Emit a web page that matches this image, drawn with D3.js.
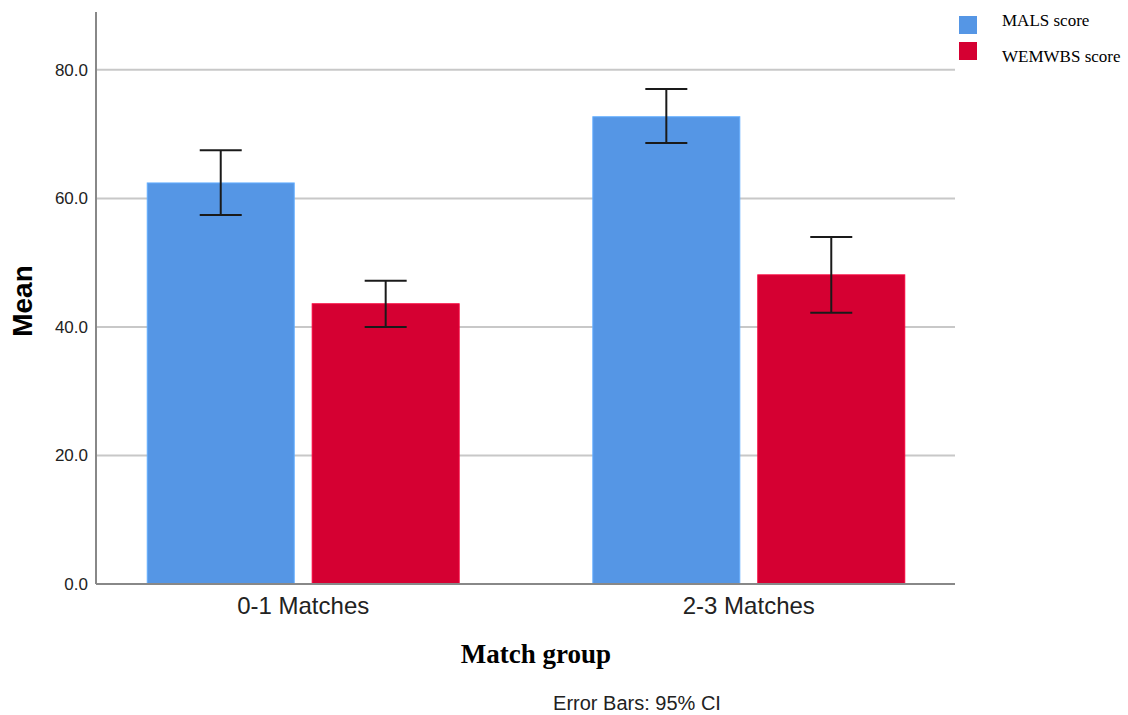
<!DOCTYPE html>
<html>
<head>
<meta charset="utf-8">
<script src="https://cdn.jsdelivr.net/npm/d3@7"></script>
<style>
  body { margin: 0; background: #fff; }
</style>
</head>
<body>
<div id="chart"></div>
<script>
const groups = ['0-1 Matches', '2-3 Matches'];
const series = ['MALS score', 'WEMWBS score'];
const colors = ['#5596e5', '#d50032'];
const means = [[62.4, 43.6], [72.7, 48.1]];
const lower = [[57.4, 40.0], [68.6, 42.2]];
const upper = [[67.5, 47.2], [77.0, 54.0]];
const yTicks = [0, 20, 40, 60, 80];

const chart = () => {
  const width = 1128;
  const height = 715;
  const left = 96, right = 956, top = 12, bottom = 584;
  const sans = 'Liberation Sans, Arial, sans-serif';
  const serif = 'Liberation Serif, Times New Roman, serif';
  const svg = d3.select('#chart')
    .append('svg')
    .attr('width', width)
    .attr('height', height);

  const y = d3.scaleLinear().domain([0, 89]).range([bottom, top]);
  const x0 = d3.scaleBand().domain(groups).range([left, right]).paddingInner(0.3).paddingOuter(0.115);
  const x1 = d3.scaleBand().domain(series).range([0, x0.bandwidth()]).paddingInner(0.109);

  // gridlines
  svg.append('g')
    .selectAll('line')
    .data(yTicks.filter(d => d > 0))
    .join('line')
    .attr('x1', left).attr('x2', right - 1)
    .attr('y1', d => y(d)).attr('y2', d => y(d))
    .attr('stroke', '#c8c8c8')
    .attr('stroke-width', 2);

  // bars
  const rows = [];
  groups.forEach((g, i) => series.forEach((s, j) => rows.push({
    g, s, j, m: means[i][j], lo: lower[i][j], hi: upper[i][j]
  })));

  svg.append('g')
    .selectAll('rect')
    .data(rows)
    .join('rect')
    .attr('x', d => x0(d.g) + x1(d.s))
    .attr('y', d => y(d.m))
    .attr('width', x1.bandwidth())
    .attr('height', d => y(0) - y(d.m))
    .attr('fill', d => colors[d.j])
    .attr('stroke', d => d3.color(colors[d.j]).brighter(0.4))
    .attr('stroke-width', 1);

  // error bars
  const eb = svg.append('g')
    .attr('stroke', '#1a1a1a')
    .attr('stroke-width', 2)
    .selectAll('g')
    .data(rows)
    .join('g')
    .attr('transform', d => `translate(${x0(d.g) + x1(d.s) + x1.bandwidth() / 2},0)`);
  eb.append('line').attr('y1', d => y(d.lo)).attr('y2', d => y(d.hi));
  eb.append('line').attr('x1', -21).attr('x2', 21).attr('y1', d => y(d.lo)).attr('y2', d => y(d.lo));
  eb.append('line').attr('x1', -21).attr('x2', 21).attr('y1', d => y(d.hi)).attr('y2', d => y(d.hi));

  // axes
  const yAxis = svg.append('g')
    .attr('transform', `translate(${left},0)`)
    .call(d3.axisLeft(y).tickValues(yTicks).tickFormat(d3.format('.1f')).tickSize(0).tickPadding(8));
  yAxis.select('.domain').remove();
  yAxis.selectAll('text')
    .attr('font-family', sans)
    .attr('font-size', 17)
    .attr('fill', '#222');

  svg.append('line')
    .attr('x1', left).attr('x2', left).attr('y1', top).attr('y2', bottom)
    .attr('stroke', '#888').attr('stroke-width', 2);

  const xAxis = svg.append('g')
    .attr('transform', `translate(0,${bottom})`)
    .call(d3.axisBottom(x0).tickSize(0).tickPadding(13));
  xAxis.select('.domain').attr('stroke', '#888').attr('stroke-width', 2)
    .attr('d', `M${left},0H${right - 1}`);
  xAxis.selectAll('text')
    .attr('font-family', sans)
    .attr('font-size', 24)
    .attr('fill', '#222');

  // titles
  svg.append('text')
    .attr('transform', 'translate(32,301) rotate(-90)')
    .attr('text-anchor', 'middle')
    .attr('font-family', sans)
    .attr('font-weight', 'bold')
    .attr('font-size', 28)
    .text('Mean');

  svg.append('text')
    .attr('x', 536).attr('y', 663)
    .attr('text-anchor', 'middle')
    .attr('font-family', serif)
    .attr('font-weight', 'bold')
    .attr('font-size', 27)
    .text('Match group');

  svg.append('text')
    .attr('x', 637).attr('y', 710)
    .attr('text-anchor', 'middle')
    .attr('font-family', sans)
    .attr('font-size', 20)
    .attr('fill', '#222')
    .text('Error Bars: 95% CI');

  // legend
  svg.append('clipPath')
    .attr('id', 'legend-clip')
    .append('rect')
    .attr('x', 940).attr('y', 14).attr('width', 188).attr('height', 80);

  const legend = svg.append('g')
    .attr('clip-path', 'url(#legend-clip)')
    .selectAll('g')
    .data(series)
    .join('g')
    .attr('transform', (d, i) => `translate(959,${16 + i * 26})`);
  legend.append('rect')
    .attr('width', 18).attr('height', 18)
    .attr('fill', (d, i) => colors[i]);
  legend.append('text')
    .attr('x', 43).attr('y', (d, i) => 10 + i * 10)
    .attr('font-family', serif)
    .attr('font-size', 17)
    .text(d => d);
};

chart();
</script>
</body>
</html>
